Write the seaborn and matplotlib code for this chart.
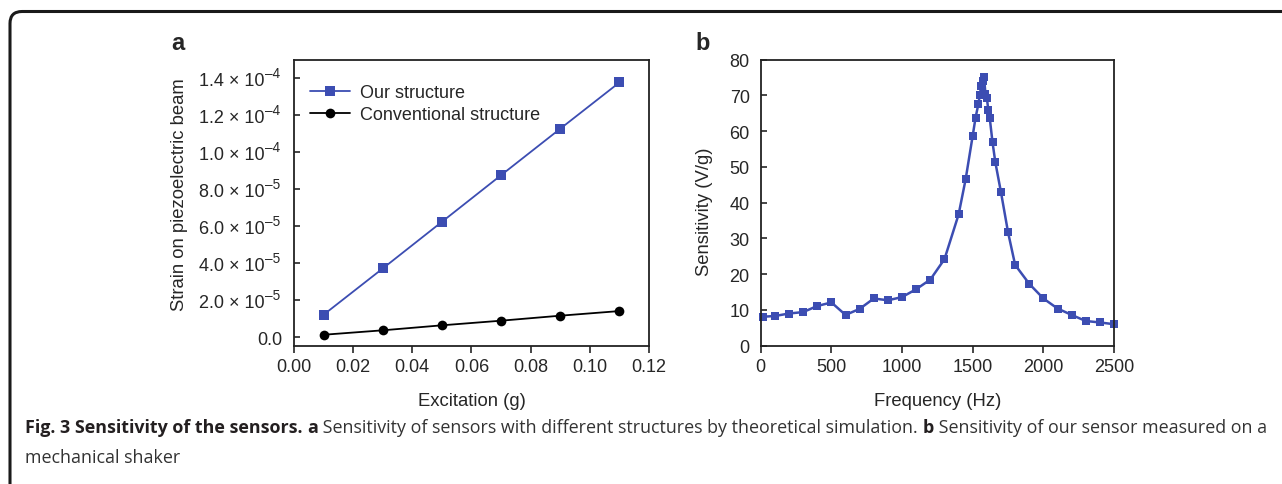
import numpy as np
import pandas as pd
import matplotlib
matplotlib.use("Agg")
import matplotlib.pyplot as plt
import matplotlib.transforms as mtransforms
import seaborn as sns
from matplotlib.patches import FancyBboxPatch

# ---------------- data ----------------
excitation = [0.01, 0.03, 0.05, 0.07, 0.09, 0.11]
strain_ours = [1.22e-5, 3.72e-5, 6.24e-5, 8.76e-5, 1.127e-4, 1.377e-4]
strain_conv = [1.4e-6, 3.8e-6, 6.5e-6, 9.0e-6, 1.17e-5, 1.42e-5]
series_names = ["Our structure", "Conventional structure"]

strain_ticks = [0.0, 2e-5, 4e-5, 6e-5, 8e-5, 1.0e-4, 1.2e-4, 1.4e-4]
strain_tick_mantissa = ["0.0", "2.0 × 10", "4.0 × 10", "6.0 × 10", "8.0 × 10",
                        "1.0 × 10", "1.2 × 10", "1.4 × 10"]
strain_tick_exponent = ["", "–5", "–5", "–5", "–5", "–4", "–4", "–4"]
excitation_ticks = [0.00, 0.02, 0.04, 0.06, 0.08, 0.10, 0.12]

frequency = [15, 100, 200, 300, 400, 500, 600, 700, 800, 900, 1000, 1100, 1200, 1300,
             1400, 1450, 1500, 1520, 1540, 1550, 1560, 1570, 1580, 1590, 1600, 1610,
             1620, 1640, 1660, 1700, 1750, 1800, 1900, 2000, 2100, 2200, 2300, 2400, 2500]
sensitivity = [8.1, 8.3, 9.0, 9.4, 11.1, 12.1, 8.6, 10.3, 13.2, 12.7, 13.6, 15.8, 18.5, 24.2,
               36.7, 46.6, 58.8, 63.8, 67.6, 70.1, 72.7, 74.1, 75.2, 70.3, 69.3, 66.0,
               63.8, 56.9, 51.3, 42.9, 31.7, 22.6, 17.3, 13.2, 10.4, 8.6, 6.9, 6.5, 6.0]
freq_ticks = [0, 500, 1000, 1500, 2000, 2500]
sens_ticks = [0, 10, 20, 30, 40, 50, 60, 70, 80]

caption_line1 = [("Fig. 3 Sensitivity of the sensors.", "bold"),
                 (" ", "normal"),
                 ("a", "bold"),
                 (" Sensitivity of sensors with different structures by theoretical simulation.", "normal"),
                 (" ", "normal"),
                 ("b", "bold"),
                 (" Sensitivity of our sensor measured on a", "normal")]
caption_line2 = "mechanical shaker"

# ---------------- style ----------------
sns.set_style("ticks")
plt.rcParams["font.family"] = ["Liberation Sans", "DejaVu Sans"]

BLUE = "#3C4DB2"
FS = 13
LFS = 13.3

fig = plt.figure(figsize=(12.82, 4.85), dpi=100)
axA = fig.add_axes([0.2293, 0.2852, 0.2769, 0.5896])
axB = fig.add_axes([0.5934, 0.2852, 0.2756, 0.5896])

# ---------------- panel a ----------------
dfA = pd.DataFrame({"x": excitation * 2,
                    "y": strain_ours + strain_conv,
                    "series": [series_names[0]] * len(excitation) + [series_names[1]] * len(excitation)})
sns.lineplot(data=dfA, x="x", y="y", hue="series", style="series",
             palette={series_names[0]: BLUE, series_names[1]: "black"},
             markers={series_names[0]: "s", series_names[1]: "o"},
             dashes=False, markersize=7, markeredgewidth=0, linewidth=1.3,
             ax=axA, clip_on=False)
axA.set_xlim(0, 0.12)
axA.set_ylim(-4.5e-6, 1.5e-4)
axA.set_xticks(excitation_ticks)
axA.set_xticklabels([f"{t:.2f}" for t in excitation_ticks])
axA.set_yticks(strain_ticks)
axA.set_yticklabels(strain_tick_mantissa)
axA.set_xlabel("Excitation (g)", fontsize=LFS, labelpad=12)
axA.set_ylabel("Strain on piezoelectric beam", fontsize=LFS)
axA.yaxis.set_label_coords(-0.2986, 0.532)
leg = axA.legend(loc="upper left", bbox_to_anchor=(0.045, 0.915), frameon=False,
                 fontsize=FS, handlelength=2.2, handletextpad=0.55, labelspacing=0.3,
                 borderaxespad=0, borderpad=0)
for h in leg.legend_handles:
    h.set_markersize(7)
axA.text(-0.345, 1.037, "a", transform=axA.transAxes, fontsize=17, fontweight="bold",
         ha="left", va="baseline")

# superscript exponents of the strain tick labels
sup_trans = (mtransforms.blended_transform_factory(axA.transAxes, axA.transData)
             + mtransforms.ScaledTranslation(0, 1.5 / 100, fig.dpi_scale_trans))
sup_x = -29.0 / (0.2769 * 1282)
for yv, ex in zip(strain_ticks, strain_tick_exponent):
    if ex:
        axA.text(sup_x, yv, ex, transform=sup_trans, fontsize=9.8,
                 ha="left", va="baseline", clip_on=False)

# ---------------- panel b ----------------
dfB = pd.DataFrame({"Frequency": frequency, "Sensitivity": sensitivity})
sns.lineplot(data=dfB, x="Frequency", y="Sensitivity", color=BLUE, marker="s",
             markersize=5.5, markeredgewidth=0, linewidth=1.8, ax=axB, clip_on=False)
axB.set_xlim(0, 2500)
axB.set_ylim(0, 80)
axB.set_xticks(freq_ticks)
axB.set_yticks(sens_ticks)
axB.set_xlabel("Frequency (Hz)", fontsize=LFS, labelpad=12)
axB.set_ylabel("Sensitivity (V/g)", fontsize=LFS)
axB.yaxis.set_label_coords(-0.135, 0.472)
axB.text(-0.186, 1.037, "b", transform=axB.transAxes, fontsize=17, fontweight="bold",
         ha="left", va="baseline")

for ax in (axA, axB):
    for s in ax.spines.values():
        s.set_linewidth(1.3)
        s.set_color("#222222")
    ax.tick_params(axis="x", direction="out", length=5, width=1.2, pad=4, labelsize=FS)
    ax.tick_params(axis="y", direction="in", length=4, width=1.2, pad=8, labelsize=FS)
# leave room for the exponents on panel a; "0.0" keeps the normal pad
axA.tick_params(axis="y", pad=8 + 18 / 1.389)
for tick, ex in zip(axA.yaxis.get_major_ticks(), strain_tick_exponent):
    if not ex:
        tick.set_pad(8)

# ---------------- frame & caption ----------------
frame = FancyBboxPatch((0.10, -1.0), 14.0, 4.725 + 1.0,
                       boxstyle="round,pad=0,rounding_size=0.12",
                       transform=fig.dpi_scale_trans, fill=False,
                       linewidth=2.2, edgecolor="#1a1a1a")
fig.add_artist(frame)

cap_font = ["Open Sans", "DejaVu Sans"]
CFS = 12.9
renderer = fig.canvas.get_renderer()
W, H = fig.bbox.width, fig.bbox.height
x_px = 25.0
y1 = 1 - 433 / 485
for txt, wt in caption_line1:
    t = fig.text(x_px / W, y1, txt, fontsize=CFS, fontweight=wt, family=cap_font,
                 color="#231f20" if wt == "bold" else "#333333", ha="left", va="baseline")
    if txt.strip() == "":
        t.set_text("x x")
        w2 = t.get_window_extent(renderer).width
        t.set_text("xx")
        w1 = t.get_window_extent(renderer).width
        t.set_text("")
        x_px += (w2 - w1)
    else:
        x_px += t.get_window_extent(renderer).width
fig.text(25 / W, 1 - 463 / 485, caption_line2, fontsize=CFS, family=cap_font,
         color="#333333", ha="left", va="baseline")

fig.savefig("out.png", dpi=100)
